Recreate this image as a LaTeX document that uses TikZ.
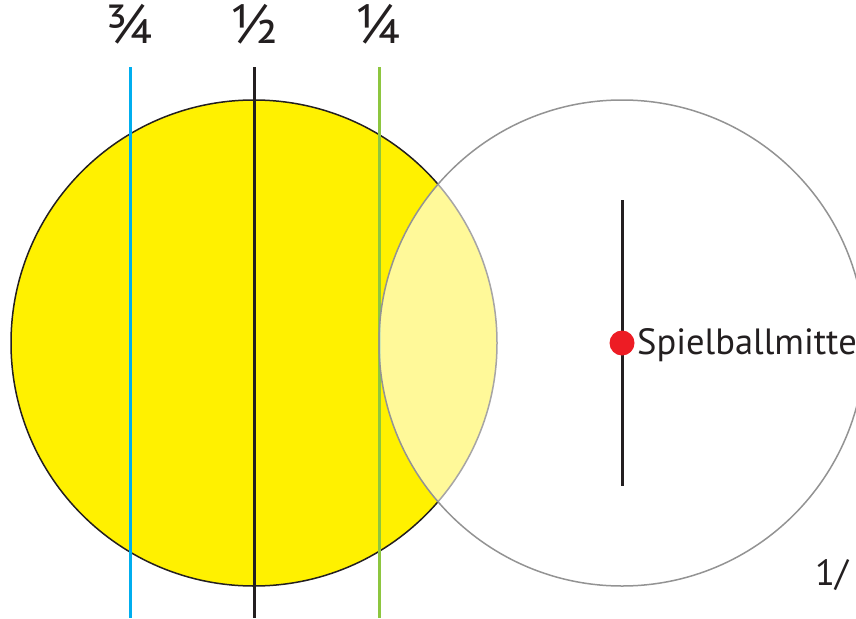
\documentclass[tikz,border=0pt]{standalone}
\usepackage{fontspec}
\setmainfont{PT Sans}
\definecolor{ballyellow}{HTML}{FFF100}
\definecolor{lineblue}{HTML}{00AEEF}
\definecolor{linegreen}{HTML}{8DC63F}
\definecolor{dotred}{HTML}{ED1C24}
\definecolor{txtdark}{HTML}{231F20}
\tikzset{
  aimline/.style={line width=3pt},
  frac/.style={font=\fontsize{55}{57}\selectfont, text=txtdark, inner sep=0pt},
  lbl/.style={font=\fontsize{36.5}{38}\selectfont, text=txtdark, inner sep=0pt},
}
\begin{document}
\begin{tikzpicture}[x=1pt,y=-1pt]
\useasboundingbox (0,0) rectangle (856,618);
\clip (0,0) rectangle (856,618);
% object ball
\node[circle, draw=txtdark, line width=1.5pt, fill=ballyellow, minimum size=486pt, inner sep=0pt] (obj) at (254,343) {};
% aim lines
\coordinate (b1) at (130,67); \coordinate (b2) at (130,618);
\coordinate (h1) at (254,67); \coordinate (h2) at (254,618);
\coordinate (g1) at (379,67); \coordinate (g2) at (379,618);
\draw[aimline, lineblue] (b1) -- (b2);
\draw[aimline, txtdark] (h1) -- (h2);
\draw[aimline, linegreen] (g1) -- (g2);
% cue ball
\node[circle, draw=gray!85, line width=1.5pt, fill=white, fill opacity=0.6, minimum size=486pt, inner sep=0pt] (cue) at (622,343) {};
\coordinate (c1) at (622,200); \coordinate (c2) at (622,486);
\draw[aimline, txtdark] (c1) -- (c2);
\node[circle, fill=dotred, minimum size=25pt, inner sep=0pt] (dot) at (622,343) {};
\node[lbl, anchor=base west] (sp) at (637,354) {Spielballmitte};
% labels
\node[frac, anchor=base] (l34) at (130,44) {¾};
\node[frac, anchor=base] (l12) at (254,44) {½};
\node[frac, anchor=base] (l14) at (379,44) {¼};
\node[lbl, anchor=base west] (one) at (815,585) {1/};
\end{tikzpicture}
\end{document}
